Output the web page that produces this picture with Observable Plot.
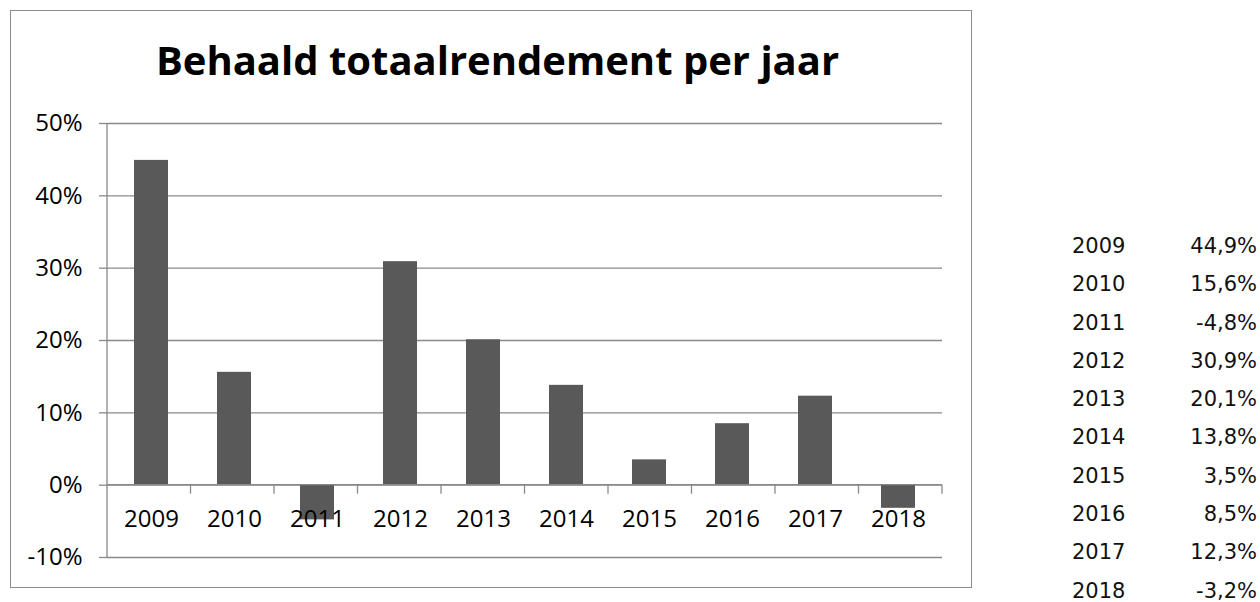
<!DOCTYPE html>
<html>
<head>
<meta charset="utf-8">
<script src="https://cdn.jsdelivr.net/npm/d3@7"></script>
<script src="https://cdn.jsdelivr.net/npm/@observablehq/plot@0.6"></script>
<style>
  html, body { margin: 0; padding: 0; background: #fff; }
  body { position: relative; width: 1260px; height: 602px; overflow: hidden; }
  #box { position: absolute; left: 10px; top: 10px; width: 960px; height: 576px; border: 1px solid #8c8c8c; }
  #title { position: absolute; left: 0; top: 40px; width: 995px; text-align: center;
           font-family: "Open Sans", sans-serif; font-weight: 700; font-size: 40px; line-height: 40px; color: #000; }
  #chart { position: absolute; left: 12px; top: 100px; }
  #table { position: absolute; left: 1072px; top: 227px; width: 185px;
           font-family: "DejaVu Sans", sans-serif; font-size: 21px; line-height: 38.3px; color: #111; }
  #table .row { display: flex; justify-content: space-between; }
</style>
</head>
<body>
<div id="box"></div>
<div id="title">Behaald totaalrendement per jaar</div>
<div id="chart"></div>
<div id="table"></div>
<script>
// ---- data ----
const years = ["2009", "2010", "2011", "2012", "2013", "2014", "2015", "2016", "2017", "2018"];
const returns = [44.9, 15.6, -4.8, 30.9, 20.1, 13.8, 3.5, 8.5, 12.3, -3.2];
const yTicks = [-10, 0, 10, 20, 30, 40, 50];

const data = years.map((year, i) => ({year, value: returns[i]}));

const GRID = "#898989";
const BAR = "#595959";
const FONT = "'Open Sans', sans-serif";

// axis lines + category separators drawn through the scales
function axisLines(index, scales, values, dims) {
  const g = d3.create("svg:g").attr("stroke", GRID).attr("stroke-width", 1.3).attr("fill", "none");
  const left = dims.marginLeft, right = dims.width - dims.marginRight;
  const y0 = scales.y(0);
  const yTop = scales.y(d3.max(yTicks)), yBot = scales.y(d3.min(yTicks));
  g.append("line").attr("x1", left).attr("x2", left).attr("y1", yTop).attr("y2", yBot);
  g.append("line").attr("x1", left).attr("x2", right).attr("y1", y0).attr("y2", y0);
  const n = years.length;
  for (let k = 1; k <= n; k++) {
    const x = left + (right - left) * k / n;
    g.append("line").attr("x1", x).attr("x2", x).attr("y1", y0).attr("y2", y0 + 9);
  }
  return g.node();
}

const chart = Plot.plot({
  width: 950,
  height: 480,
  marginLeft: 95,
  marginRight: 20,
  marginTop: 23,
  marginBottom: 23,
  style: {fontFamily: FONT, background: "transparent", overflow: "visible"},
  x: {domain: years, paddingInner: 0.59, paddingOuter: 0.295, axis: null},
  y: {domain: [-10, 50], axis: null},
  marks: [
    Plot.gridY(yTicks, {stroke: GRID, strokeOpacity: 1, strokeWidth: 1.3}),
    Plot.barY(data, {x: "year", y: "value", fill: BAR}),
    axisLines,
    Plot.axisY(yTicks, {
      label: null,
      tickFormat: d => `${d}%`,
      tickSize: 8,
      tickPadding: 17,
      stroke: GRID,
      strokeWidth: 1.3,
      fontSize: 24,
      fill: "#000"
    }),
    Plot.text(data, {x: "year", y: () => 0, text: "year", dy: 34, fontSize: 24, fill: "#000"})
  ]
});
document.getElementById("chart").appendChild(chart);

// right-hand table
const table = document.getElementById("table");
data.forEach(d => {
  const row = document.createElement("div");
  row.className = "row";
  const a = document.createElement("span");
  a.textContent = d.year;
  const b = document.createElement("span");
  b.textContent = d.value.toFixed(1).replace(".", ",") + "%";
  row.append(a, b);
  table.appendChild(row);
});
</script>
</body>
</html>
